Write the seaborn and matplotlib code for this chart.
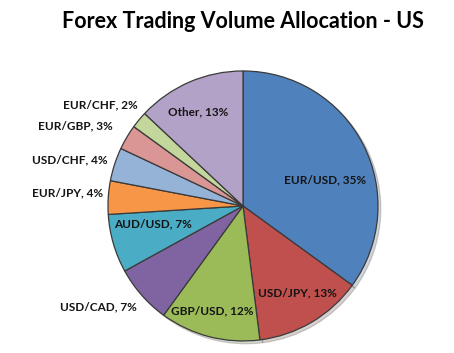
import matplotlib
matplotlib.use('Agg')
from matplotlib import pyplot as plt
import seaborn as sns

pairs = ['EUR/USD', 'USD/JPY', 'GBP/USD', 'USD/CAD', 'AUD/USD',
         'EUR/JPY', 'USD/CHF', 'EUR/GBP', 'EUR/CHF', 'Other']
shares = [35, 13, 12, 7, 7, 4, 4, 3, 2, 13]
colors = ['#4F81BD', '#C0504D', '#9BBB59', '#8064A2', '#4BACC6',
          '#F79646', '#95B3D7', '#DA9694', '#C3D69B', '#B3A2C7']

# label anchor points, in pie units (radius = 1)
label_xy = [(0.61, 0.19), (0.40, -0.64), (-0.23, -0.78), (-1.07, -0.75),
            (-0.67, -0.13), (-1.30, 0.10), (-1.28, 0.34), (-1.24, 0.59),
            (-1.06, 0.75), (-0.33, 0.70)]

sns.set_style('white')
plt.rcParams['font.family'] = ['Lato', 'DejaVu Sans']

fig = plt.figure(figsize=(4.54, 3.53), dpi=100)
ax = fig.add_axes([0.2379, 0.034, 0.5947, 0.765])

wedges, _ = ax.pie(shares, colors=colors, startangle=90, counterclock=False,
                   wedgeprops=dict(edgecolor='#3a3a3a', linewidth=0.9),
                   shadow=dict(ox=0.015, oy=-0.015, alpha=0.2))

for name, val, (x, y) in zip(pairs, shares, label_xy):
    ax.text(x, y, f'{name}, {val}%', ha='center', va='center',
            fontsize=8.5, fontweight='bold', color='#141414')

ax.set_xlim(-1, 1)
ax.set_ylim(-1, 1)
ax.set_aspect('equal')
ax.axis('off')

fig.text(0.535, 0.94, 'Forex Trading Volume Allocation - US', ha='center',
         va='center', fontsize=15.5, fontweight='bold', color='black')

fig.savefig('out.png', dpi=100)
